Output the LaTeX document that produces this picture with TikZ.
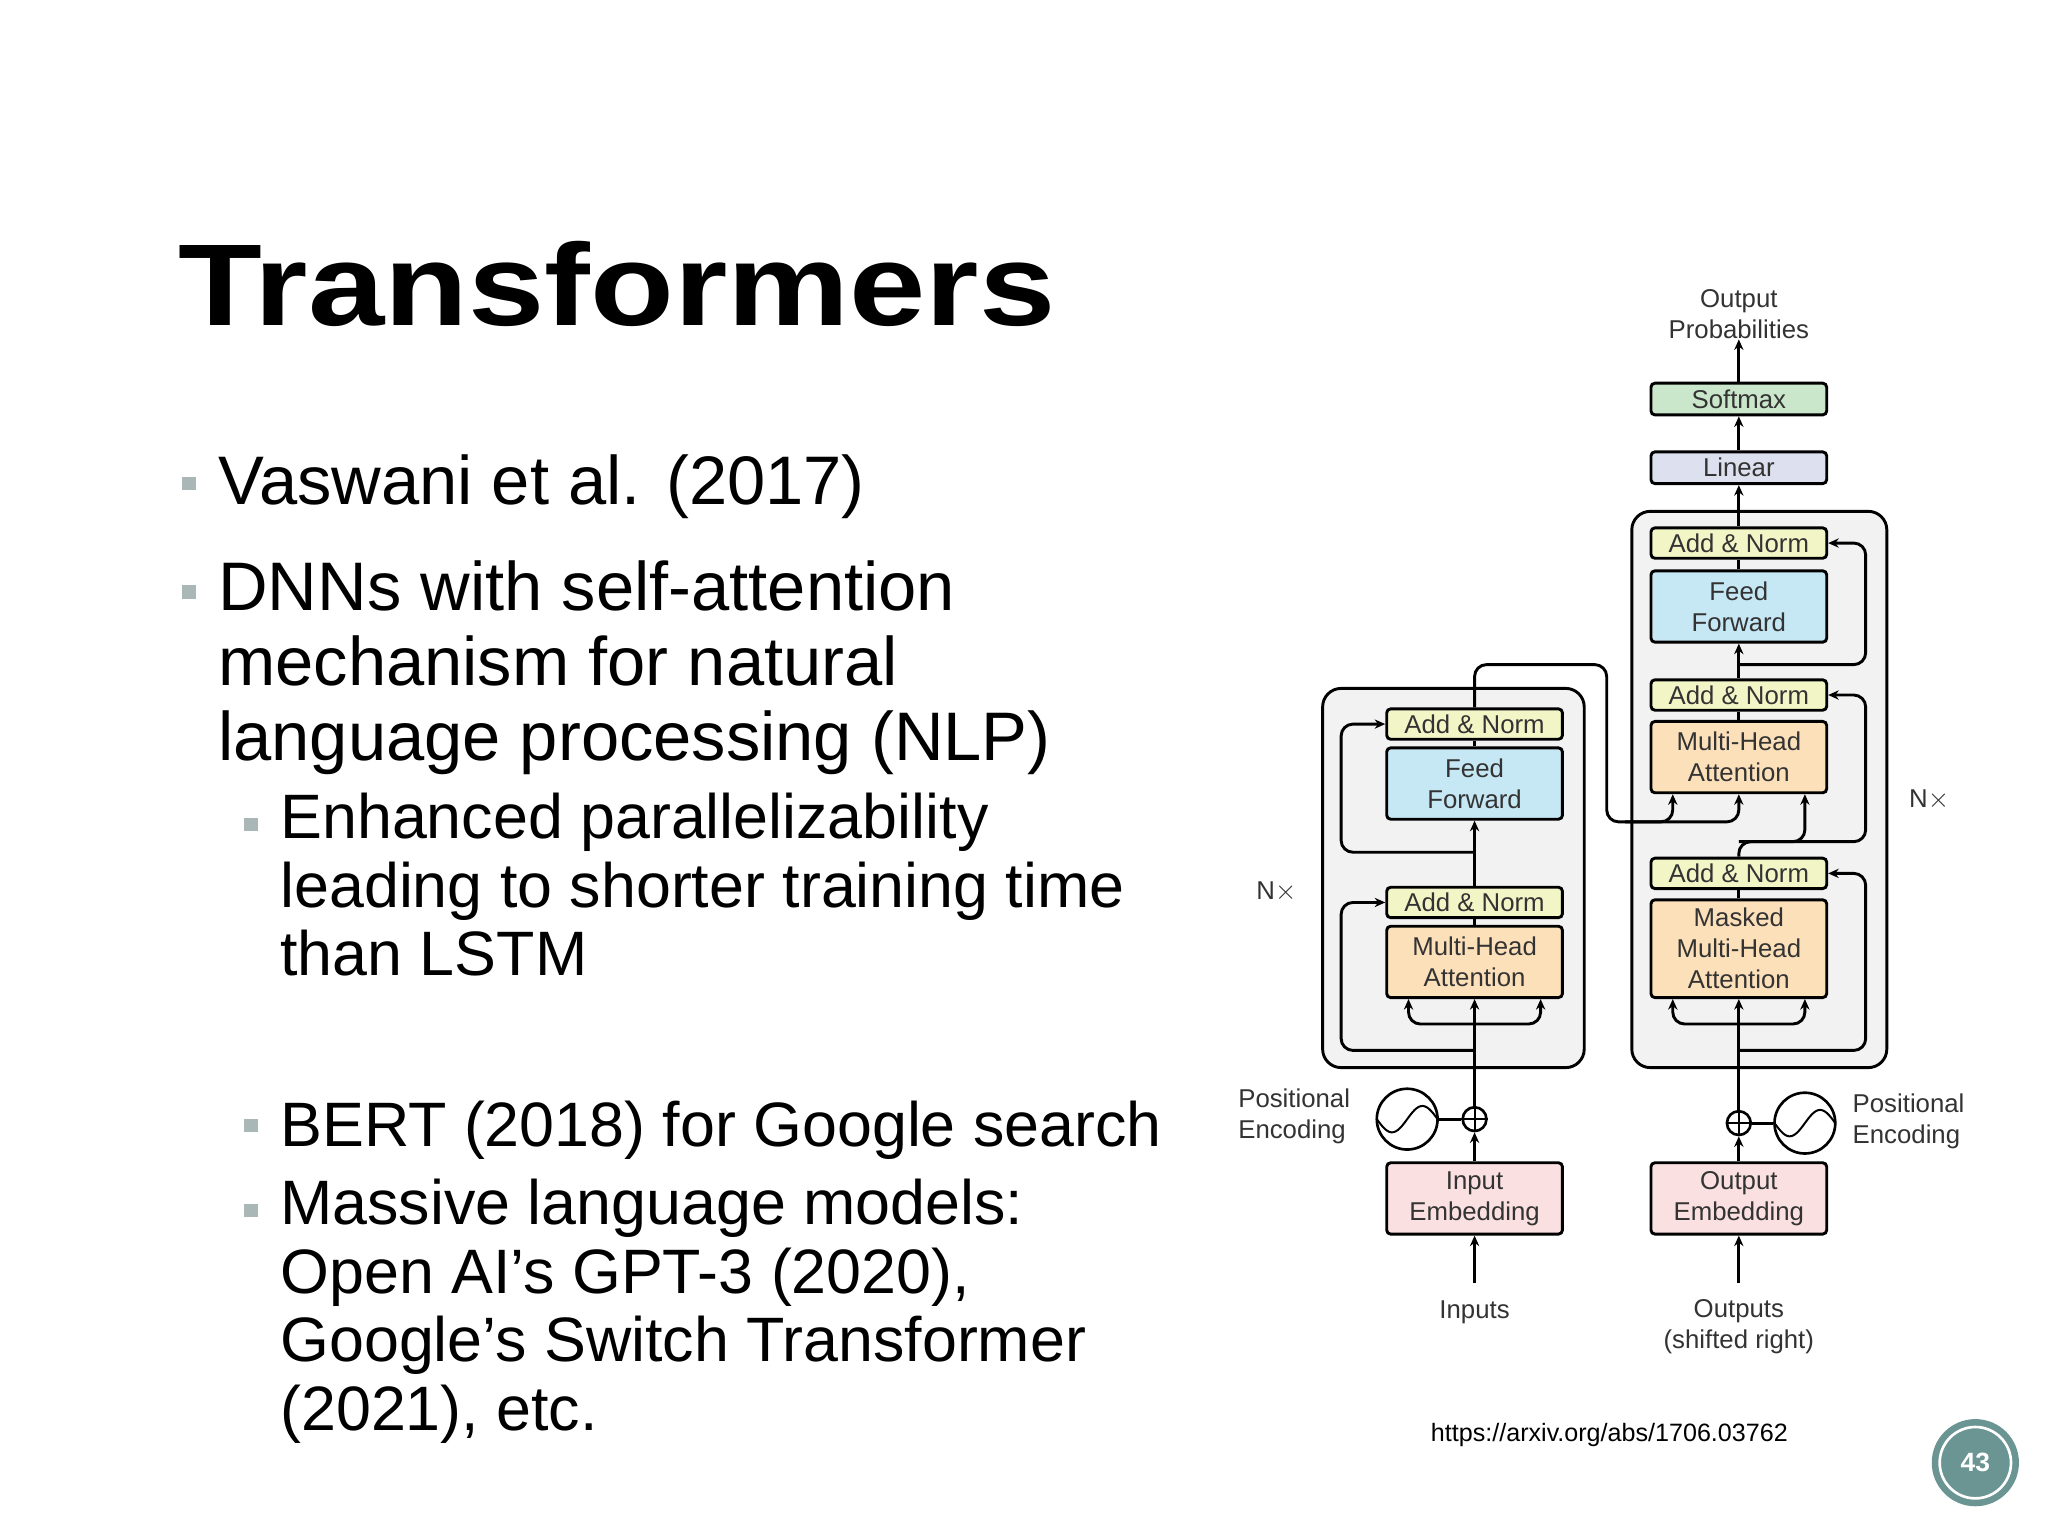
\documentclass[tikz,border=0pt]{standalone}
\usepackage{fontspec}
\setmainfont{Liberation Sans}
\usetikzlibrary{arrows.meta,calc}
\definecolor{textc}{HTML}{333333}
\definecolor{anc}{HTML}{F2F6C6}
\definecolor{ffc}{HTML}{C6E7F4}
\definecolor{mhc}{HTML}{FCE0BA}
\definecolor{linc}{HTML}{DCE0EF}
\definecolor{smc}{HTML}{CBE7CB}
\definecolor{embc}{HTML}{FAE0E0}
\definecolor{blkc}{HTML}{F2F2F3}
\definecolor{bulc}{HTML}{A9B7B6}
\definecolor{teal}{HTML}{6A9592}
\newcommand\dfont{\fontsize{19.5}{23.5}\selectfont}
\begin{document}
\begin{tikzpicture}[x=1pt,y=-1pt,
  box/.style={draw,line width=2.2pt,rounded corners=3pt,minimum width=133pt,inner sep=0pt,text=textc,font=\dfont,align=center},
  blk/.style={draw,line width=2.2pt,rounded corners=14pt,fill=blkc},
  ln/.style={line width=2.2pt,rounded corners=9pt},
  arr/.style={ln,-{Stealth[length=8pt,width=7pt]}},
  lab/.style={text=textc,font=\dfont,align=center,inner sep=0pt},
  bul/.style={fill=bulc,minimum size=10pt,inner sep=0pt},
  big/.style={font=\fontsize{52}{57}\selectfont,anchor=base west,inner sep=0pt,align=left},
  sub/.style={font=\fontsize{47.5}{52}\selectfont,anchor=base west,inner sep=0pt,align=left}]
\useasboundingbox (0,0) rectangle (1550,1162.5);
\fill[white] (0,0) rectangle (1550,1162.5);
% title
\node[anchor=base west,inner sep=0pt,font=\fontsize{88}{90}\selectfont\bfseries,xscale=1.18] (title) at (135,246) {Transformers};
% bullets
\node[bul] (b1) at (143,366) {};
\node[big] (t1) at (165,382) {Vaswani et al. (2017)};
\node[bul] (b2) at (143,448) {};
\node[big,anchor=north west] (t2) at (165,424) {DNNs with self-attention\\mechanism for natural\\language processing (NLP)};
\node[bul] (b3) at (190,624) {};
\node[sub,anchor=north west] (t3) at (212,600) {Enhanced parallelizability\\leading to shorter training time\\than LSTM};
\node[bul] (b4) at (190,852) {};
\node[sub] (t4) at (212,868) {BERT (2018) for Google search};
\node[bul] (b5) at (190,916) {};
\node[sub,anchor=north west] (t5) at (212,892) {Massive language models:\\Open AI’s GPT-3 (2020),\\Google's Switch Transformer\\(2021), etc.};
% blocks
\draw[blk] (1001,521) rectangle (1199,808);
\draw[blk] (1235,387) rectangle (1428,808);
% encoder boxes
\node[box,fill=anc,minimum height=23pt] (eAN2) at (1116,548) {Add \& Norm};
\node[box,fill=ffc,minimum height=54pt] (eFF) at (1116,593) {Feed\\Forward};
\node[box,fill=anc,minimum height=23pt] (eAN1) at (1116,683) {Add \& Norm};
\node[box,fill=mhc,minimum height=54pt] (eMHA) at (1116,728) {Multi-Head\\Attention};
\node[box,fill=embc,minimum height=54pt] (eEmb) at (1116,907) {Input\\Embedding};
% decoder boxes
\node[box,fill=anc,minimum height=23pt] (dAN3) at (1316,411) {Add \& Norm};
\node[box,fill=ffc,minimum height=54pt] (dFF) at (1316,459) {Feed\\Forward};
\node[box,fill=anc,minimum height=23pt] (dAN2) at (1316,526) {Add \& Norm};
\node[box,fill=mhc,minimum height=54pt] (dMHA) at (1316,573) {Multi-Head\\Attention};
\node[box,fill=anc,minimum height=23pt] (dAN1) at (1316,661) {Add \& Norm};
\node[box,fill=mhc,minimum height=74pt] (dMMHA) at (1316,718) {Masked\\Multi-Head\\Attention};
\node[box,fill=embc,minimum height=54pt] (dEmb) at (1316,907) {Output\\Embedding};
\node[box,fill=linc,minimum height=24pt] (lin) at (1316,354) {Linear};
\node[box,fill=smc,minimum height=24pt] (soft) at (1316,302) {Softmax};
\node[lab] (oprob) at (1316,238) {Output\\Probabilities};
% positional encodings
\node[draw,circle,line width=2pt,minimum size=18pt,inner sep=0pt] (ePlus) at (1116,847) {};
\draw[line width=1.5pt] (ePlus.north)--(ePlus.south) (ePlus.west)--(ePlus.east);
\node[draw,circle,line width=2pt,minimum size=46pt,inner sep=0pt] (eSin) at (1065,847) {};
\draw[line width=1.5pt] plot[domain=-1:1,smooth,samples=30] ({1065+23*\x},{847-10*sin(\x*180)});
\node[draw,circle,line width=2pt,minimum size=18pt,inner sep=0pt] (dPlus) at (1316,850) {};
\draw[line width=1.5pt] (dPlus.north)--(dPlus.south) (dPlus.west)--(dPlus.east);
\node[draw,circle,line width=2pt,minimum size=46pt,inner sep=0pt] (dSin) at (1366,850) {};
\draw[line width=1.5pt] plot[domain=-1:1,smooth,samples=30] ({1366+23*\x},{850-10*sin(\x*180)});
\node[lab,align=left,anchor=west] (ePE) at (937,845) {Positional\\Encoding};
\node[lab,align=left,anchor=west] (dPE) at (1402,849) {Positional\\Encoding};
\node[lab] (inp) at (1116,993) {Inputs};
\node[lab,anchor=north] (outp) at (1316,983) {Outputs\\(shifted right)};
\node[lab] (nxl) at (966,675) {N$\times$};
\node[lab] (nxr) at (1460,605) {N$\times$};
% encoder connectors
\draw[arr] ($(eEmb.south)+(0,36)$) -- (eEmb.south);
\draw[arr] (eEmb.north) -- (ePlus.south);
\draw[ln] (eSin.east) -- (ePlus.west);
\draw[arr] (ePlus.north) -- (eMHA.south);
\draw[arr] (1116,775) -- (1066,775) -- ($(eMHA.south)+(-50,0)$);
\draw[arr] (1116,775) -- (1166,775) -- ($(eMHA.south)+(50,0)$);
\draw[arr] (1116,795) -- (1015,795) -- (1015,683) -- (eAN1.west);
\draw[ln] (eMHA.north) -- (eAN1.south);
\draw[arr] (eAN1.north) -- (eFF.south);
\draw[arr] (1116,645) -- (1015,645) -- (1015,548) -- (eAN2.west);
\draw[ln] (eFF.north) -- (eAN2.south);
\draw[arr] (eAN2.north) -- (1116,503) -- (1216,503) -- (1216,622) -- (1316,622) -- ($(dMHA.south)+(0,0)$);
\draw[arr] (1230,622) -- (1266,622) -- ($(dMHA.south)+(-50,0)$);
% decoder connectors
\draw[arr] ($(dEmb.south)+(0,36)$) -- (dEmb.south);
\draw[arr] (dEmb.north) -- (dPlus.south);
\draw[ln] (dSin.west) -- (dPlus.east);
\draw[arr] (dPlus.north) -- (dMMHA.south);
\draw[arr] (1316,775) -- (1266,775) -- ($(dMMHA.south)+(-50,0)$);
\draw[arr] (1316,775) -- (1366,775) -- ($(dMMHA.south)+(50,0)$);
\draw[arr] (1316,795) -- (1412,795) -- (1412,661) -- (dAN1.east);
\draw[ln] (dMMHA.north) -- (dAN1.south);
\draw[arr] (dAN1.north) -- (1316,637) -- (1366,637) -- ($(dMHA.south)+(50,0)$);
\draw[arr] (1316,637) -- (1412,637) -- (1412,526) -- (dAN2.east);
\draw[ln] (dMHA.north) -- (dAN2.south);
\draw[arr] (dAN2.north) -- (dFF.south);
\draw[arr] (1316,503) -- (1412,503) -- (1412,411) -- (dAN3.east);
\draw[ln] (dFF.north) -- (dAN3.south);
\draw[arr] (dAN3.north) -- (lin.south);
\draw[arr] (lin.north) -- (soft.south);
\draw[arr] (soft.north) -- (oprob.south);
% footer
\node[font=\fontsize{19}{22}\selectfont,inner sep=0pt] (url) at (1218,1086) {https://arxiv.org/abs/1706.03762};
\node[circle,fill=teal,minimum size=66pt,inner sep=0pt] (pg) at (1495,1107) {};
\draw[white,line width=2pt] (pg) circle (27);
\node[text=white,font=\fontsize{20}{22}\selectfont\bfseries] (pgn) at (1495,1107) {43};
\end{tikzpicture}
\end{document}
